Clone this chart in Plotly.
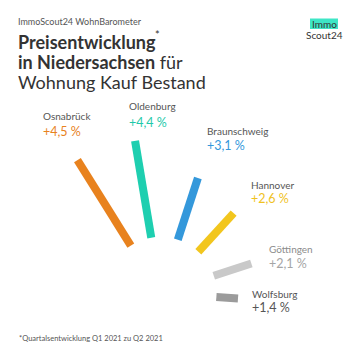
import math
import plotly.graph_objects as go

# ---- data ----
cities = ["Osnabrück", "Oldenburg", "Braunschweig", "Hannover", "Göttingen", "Wolfsburg"]
changes = [4.5, 4.4, 3.1, 2.6, 2.1, 1.4]
value_labels = ["+4,5 %", "+4,4 %", "+3,1 %", "+2,6 %", "+2,1 %", "+1,4 %"]

# ---- styles ----
bar_colors = ["#E8821E", "#1ECFB0", "#3498DB", "#F2C61E", "#C9C9C9", "#9B9B9B"]
name_colors = ["#555555", "#555555", "#555555", "#555555", "#8C8C8C", "#555555"]
value_colors = ["#E8821E", "#1EC9AA", "#3498DB", "#F0C21E", "#A5A5A5", "#555555"]
angles_deg = [-32, -9.5, 18, 42.5, 72, 94]
label_pos = [(41, 116, 131), (127, 106, 122), (205, 131, 145),
             (249, 185, 198), (267, 249, 263), (250, 294, 307)]

FONT = "Lato"
cx, cy = 160.5, 293
r0 = 56
k, v0 = 25.5, 0.55

fig = go.Figure()
for city, v, a, col in zip(cities, changes, angles_deg, bar_colors):
    th = math.radians(a)
    ux, uy = math.sin(th), -math.cos(th)
    r1 = r0 + k * (v - v0)
    fig.add_trace(go.Scatter(
        x=[cx + r0 * ux, cx + r1 * ux], y=[cy + r0 * uy, cy + r1 * uy],
        mode="lines", line=dict(color=col, width=8), hoverinfo="skip",
        showlegend=False, name=city))

ann = []
for city, lab, (lx, ny, vy), nc, vc in zip(cities, value_labels, label_pos, name_colors, value_colors):
    ann.append(dict(x=lx, y=ny, text=city, xanchor="left", yanchor="middle",
                    showarrow=False, font=dict(family=FONT, size=10, color=nc)))
    ann.append(dict(x=lx, y=vy, text=lab, xanchor="left", yanchor="middle",
                    showarrow=False, font=dict(family=FONT, size=12.5, color=vc)))

# header
ann.append(dict(x=16, y=21, text="ImmoScout24 WohnBarometer", xanchor="left", yanchor="middle",
                showarrow=False, font=dict(family=FONT, size=9, color="#555555")))
ann.append(dict(x=16, y=41.5, text="<b>Preisentwicklung</b>", xanchor="left", yanchor="middle",
                showarrow=False, font=dict(family=FONT, size=18, color="#333333")))
ann.append(dict(x=154, y=34, text="*", xanchor="left", yanchor="middle",
                showarrow=False, borderpad=0, font=dict(family=FONT, size=11, color="#333333")))
ann.append(dict(x=16, y=61.5, text="<b>in Niedersachsen</b> für", xanchor="left", yanchor="middle",
                showarrow=False, font=dict(family=FONT, size=18, color="#333333")))
ann.append(dict(x=16, y=81.5, text="Wohnung Kauf Bestand", xanchor="left", yanchor="middle",
                showarrow=False, font=dict(family=FONT, size=18, color="#333333")))
# logo
ann.append(dict(x=324, y=24, text="Immo", xanchor="center", yanchor="middle",
                showarrow=False, font=dict(family=FONT, size=10, color="#333333")))
ann.append(dict(x=324, y=35, text="Scout24", xanchor="center", yanchor="middle",
                showarrow=False, font=dict(family=FONT, size=10, color="#333333")))
# footnote
ann.append(dict(x=17, y=338, text="*Quartalsentwicklung Q1 2021 zu Q2 2021", xanchor="left", yanchor="middle",
                showarrow=False, font=dict(family=FONT, size=7.5, color="#555555")))

fig.update_layout(
    width=360, height=360, margin=dict(l=0, r=0, t=0, b=0),
    paper_bgcolor="white", plot_bgcolor="white",
    xaxis=dict(range=[0, 360], visible=False, fixedrange=True),
    yaxis=dict(range=[360, 0], visible=False, fixedrange=True),
    annotations=ann,
    shapes=[dict(type="rect", xref="x", yref="y", x0=310, x1=338, y0=18.5, y1=29,
                 fillcolor="#3EE6C6", line=dict(width=0), layer="below")],
)

fig.write_html("out.html", config={"displayModeBar": False},
               post_script="document.body.style.margin='0';document.body.style.padding='0';")
